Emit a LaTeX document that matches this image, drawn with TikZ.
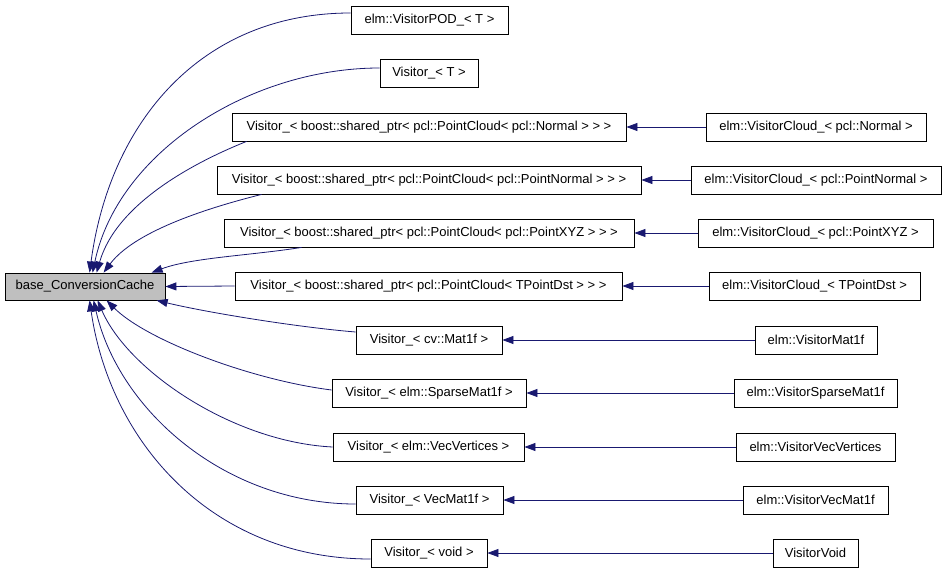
\documentclass[tikz,border=0pt]{standalone}
\usepackage{fontspec}
\setmainfont{Liberation Sans}
\usetikzlibrary{arrows.meta}
\definecolor{edgeblue}{HTML}{191970}
\definecolor{basegray}{HTML}{BFBFBF}
\tikzset{
  x=1pt, y=-1pt,
  box/.style={draw=black, line width=0.8pt, fill=white, inner sep=0pt, minimum height=28pt, font=\fontsize{13}{15}\selectfont, text=black},
  inh/.style={draw=edgeblue, line width=0.8pt, -{Triangle[length=11pt,width=8pt]}, color=edgeblue}
}
\begin{document}
\begin{tikzpicture}
\useasboundingbox (0,0) rectangle (947,573);
% base
\node[box, fill=basegray, minimum width=160pt, minimum height=27pt] (base) at (85,286.5) {base\_ConversionCache};
% middle column
\node[box, minimum width=157pt] (pod) at (429.5,20) {elm::VisitorPOD\_< T >};
\node[box, minimum width=98pt] (vt) at (429,73) {Visitor\_< T >};
\node[box, minimum width=394pt] (vn) at (429,127) {Visitor\_< boost::shared\_ptr< pcl::PointCloud< pcl::Normal > > >};
\node[box, minimum width=424pt] (vpn) at (429,180) {Visitor\_< boost::shared\_ptr< pcl::PointCloud< pcl::PointNormal > > >};
\node[box, minimum width=410pt] (vxyz) at (429,233) {Visitor\_< boost::shared\_ptr< pcl::PointCloud< pcl::PointXYZ > > >};
\node[box, minimum width=387pt] (vtpd) at (428.5,286) {Visitor\_< boost::shared\_ptr< pcl::PointCloud< TPointDst > > >};
\node[box, minimum width=146pt] (vmat) at (429,340) {Visitor\_< cv::Mat1f >};
\node[box, minimum width=194pt] (vsp) at (429,393) {Visitor\_< elm::SparseMat1f >};
\node[box, minimum width=191pt] (vvv) at (428.5,447) {Visitor\_< elm::VecVertices >};
\node[box, minimum width=147pt] (vvm) at (429.5,500) {Visitor\_< VecMat1f >};
\node[box, minimum width=116pt] (vvoid) at (429,553) {Visitor\_< void >};
% right column
\node[box, minimum width=220pt] (cn) at (816,127) {elm::VisitorCloud\_< pcl::Normal >};
\node[box, minimum width=250pt] (cpn) at (816,180) {elm::VisitorCloud\_< pcl::PointNormal >};
\node[box, minimum width=235pt] (cxyz) at (815.5,233) {elm::VisitorCloud\_< pcl::PointXYZ >};
\node[box, minimum width=211pt] (ctpd) at (814.5,286) {elm::VisitorCloud\_< TPointDst >};
\node[box, minimum width=122pt] (rmat) at (816,340) {elm::VisitorMat1f};
\node[box, minimum width=163pt] (rsp) at (815.5,393) {elm::VisitorSparseMat1f};
\node[box, minimum width=159pt] (rvv) at (815.5,447) {elm::VisitorVecVertices};
\node[box, minimum width=145pt] (rvm) at (815.5,500) {elm::VisitorVecMat1f};
\node[box, minimum width=85pt] (rvoid) at (815.5,553) {VisitorVoid};
% right-to-middle edges
\draw[inh] (cn.west) -- (vn.east);
\draw[inh] (cpn.west) -- (vpn.east);
\draw[inh] (cxyz.west) -- (vxyz.east);
\draw[inh] (ctpd.west) -- (vtpd.east);
\draw[inh] (rmat.west) -- (vmat.east);
\draw[inh] (rsp.west) -- (vsp.east);
\draw[inh] (rvv.west) -- (vvv.east);
\draw[inh] (rvm.west) -- (vvm.east);
\draw[inh] (rvoid.west) -- (vvoid.east);
% middle-to-base edges
\draw[inh] ([yshift=7]pod.west) .. controls +(-150,0) and +(20,-150) .. ([xshift=85]base.north west);
\draw[inh] ([yshift=5]vt.west) .. controls +(-130,0) and +(25,-120) .. ([xshift=88]base.north west);
\draw[inh] ([xshift=15]vn.south west) .. controls +(-50,20) and +(20,-70) .. ([xshift=92]base.north west);
\draw[inh] ([xshift=45]vpn.south west) .. controls +(-60,15) and +(30,-40) .. ([xshift=99]base.north west);
\draw[inh] ([xshift=78]vxyz.south west) .. controls +(-50,8) and +(40,-15) .. ([xshift=147]base.north west);
\draw[inh] (vtpd.west) -- (base.east);
\draw[inh] ([yshift=8]vmat.west) .. controls +(-60,-5) and +(50,12) .. ([xshift=152]base.south west);
\draw[inh] ([yshift=3]vsp.west) .. controls +(-80,-10) and +(40,40) .. ([xshift=102]base.south west);
\draw[inh] (vvv.west) .. controls +(-100,-5) and +(30,70) .. ([xshift=93]base.south west);
\draw[inh] ([yshift=-4]vvm.west) .. controls +(-130,0) and +(25,110) .. ([xshift=89]base.south west);
\draw[inh] ([yshift=-6]vvoid.west) .. controls +(-160,0) and +(20,140) .. ([xshift=85]base.south west);
\end{tikzpicture}
\end{document}
